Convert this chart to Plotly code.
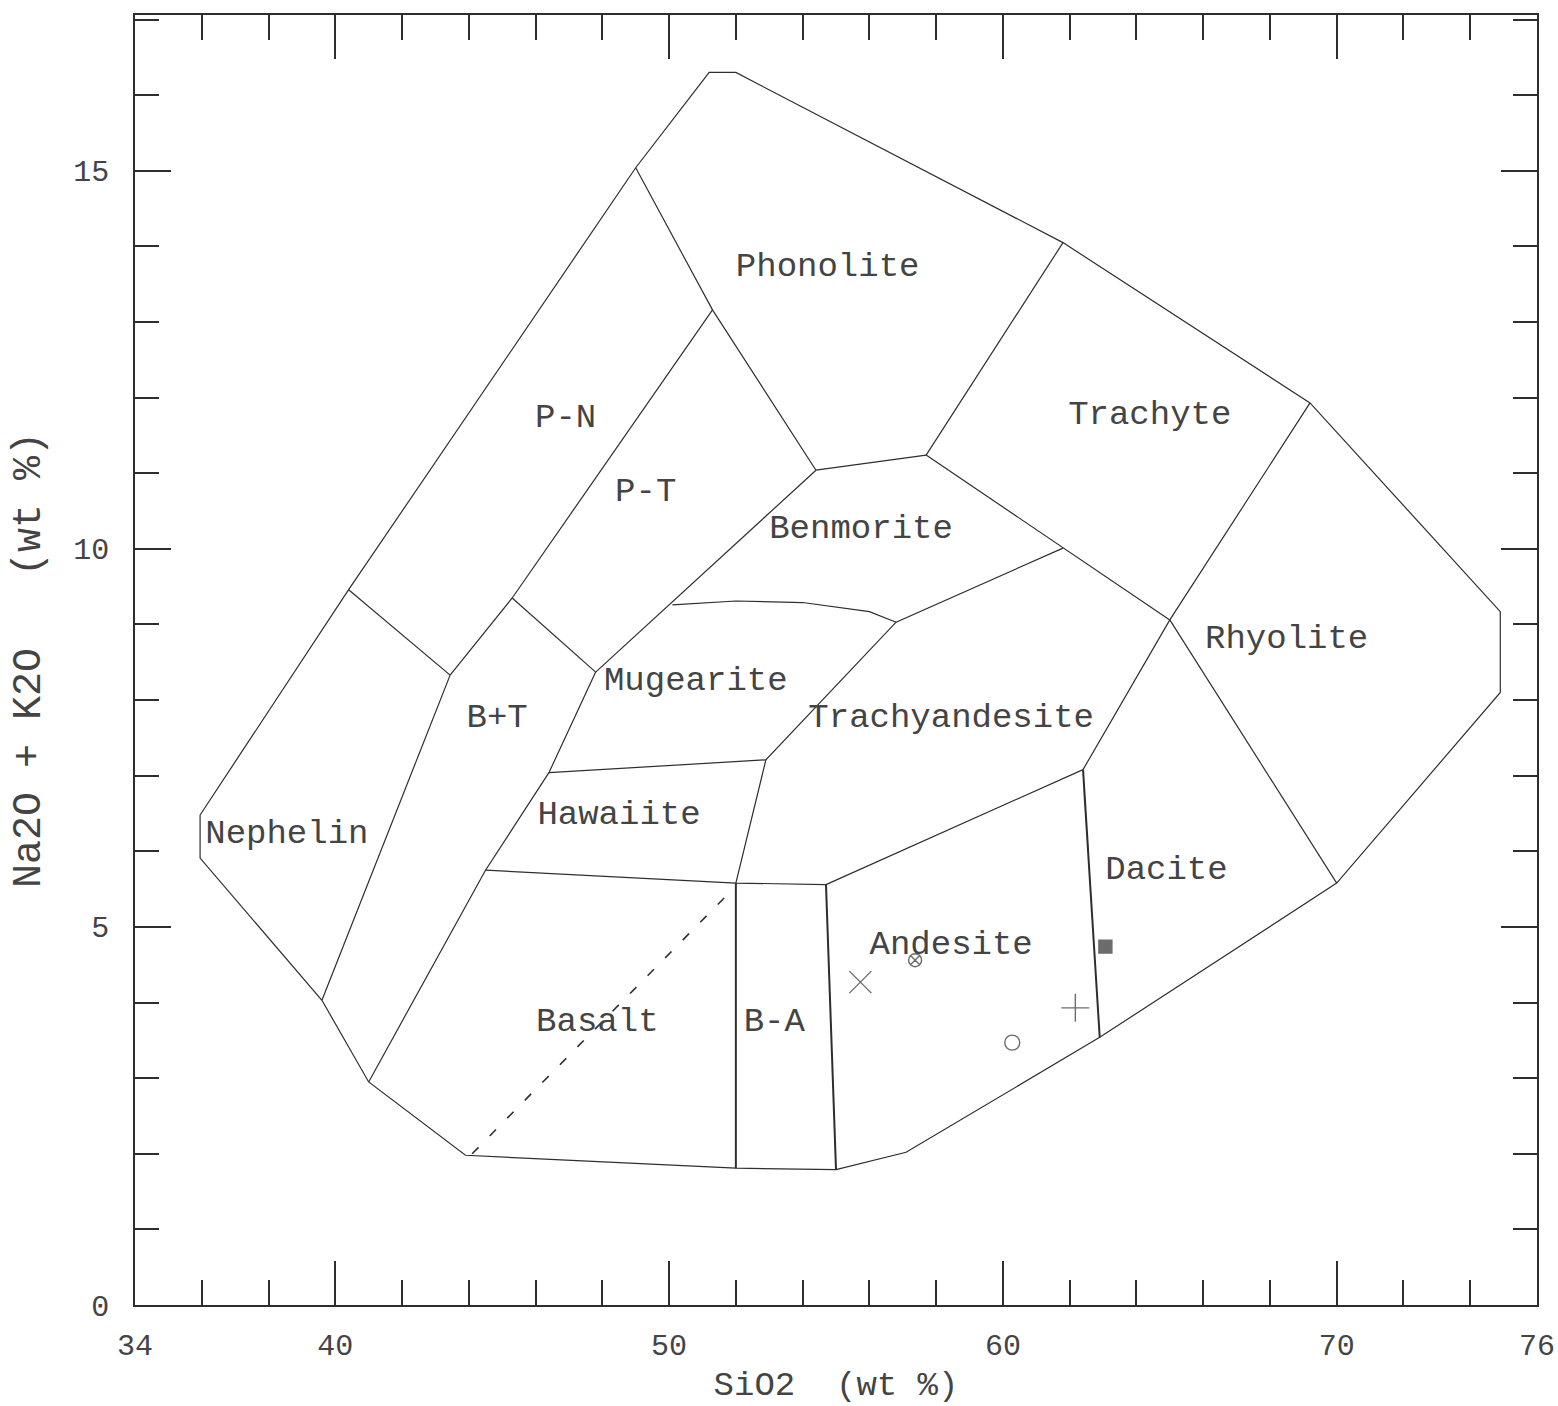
import plotly.graph_objects as go

# Total-alkali vs silica classification fields (SiO2 wt %, Na2O+K2O wt %)
outer_sio2 = [35.95, 40.4, 49.0, 51.2, 52.0, 61.8, 69.2, 74.9, 74.9, 70.0, 62.9, 57.1, 55.0, 52.0, 43.9, 41.0, 39.6, 35.95, 35.95]
outer_alk = [6.48, 9.46, 15.04, 16.3, 16.3, 14.05, 11.93, 9.17, 8.1, 5.58, 3.54, 2.02, 1.79, 1.81, 1.98, 2.95, 4.03, 5.91, 6.48]

nephelin_top_sio2 = [40.4, 43.44]
nephelin_top_alk = [9.46, 8.33]
nephelin_bt_sio2 = [43.44, 39.6]
nephelin_bt_alk = [8.33, 4.03]
pn_pt_sio2 = [43.44, 45.3, 51.3]
pn_pt_alk = [8.33, 9.35, 13.16]
phonolite_sio2 = [49.0, 51.3, 54.4]
phonolite_alk = [15.04, 13.16, 11.04]
bt_pt_sio2 = [45.3, 47.8]
bt_pt_alk = [9.35, 8.37]
pt_right_sio2 = [54.4, 47.8]
pt_right_alk = [11.04, 8.37]
bt_right_sio2 = [47.8, 46.4, 44.5, 41.0]
bt_right_alk = [8.37, 7.04, 5.75, 2.95]
benmorite_top_sio2 = [54.4, 57.7]
benmorite_top_alk = [11.04, 11.24]
trachyte_left_sio2 = [61.8, 57.7]
trachyte_left_alk = [14.05, 11.24]
trachyte_bottom_sio2 = [57.7, 61.8, 65.0]
trachyte_bottom_alk = [11.24, 10.01, 9.06]
rhyolite_left_sio2 = [69.2, 65.0, 62.4]
rhyolite_left_alk = [11.93, 9.06, 7.08]
rhyolite_dacite_sio2 = [65.0, 70.0]
rhyolite_dacite_alk = [9.06, 5.58]
trachyandesite_left_sio2 = [61.8, 56.8, 52.9, 52.0]
trachyandesite_left_alk = [10.01, 9.03, 7.21, 5.58]
mugearite_top_sio2 = [50.1, 52.0, 54.0, 56.0, 56.8]
mugearite_top_alk = [9.26, 9.31, 9.29, 9.17, 9.03]
hawaiite_top_sio2 = [46.4, 52.9]
hawaiite_top_alk = [7.04, 7.21]
hawaiite_bottom_sio2 = [44.5, 52.0, 54.7]
hawaiite_bottom_alk = [5.75, 5.58, 5.56]
andesite_top_sio2 = [54.7, 62.4]
andesite_top_alk = [5.56, 7.08]
ba_left_sio2 = [52.0, 52.0]
ba_left_alk = [5.58, 1.81]
ba_right_sio2 = [54.7, 55.0]
ba_right_alk = [5.56, 1.79]
dacite_left_sio2 = [62.4, 62.9]
dacite_left_alk = [7.08, 3.54]
alkaline_divide_sio2 = [44.1, 51.8]
alkaline_divide_alk = [2.0, 5.45]

field_names = ["Phonolite", "P-N", "P-T", "Trachyte", "Benmorite", "Rhyolite", "Mugearite",
               "Trachyandesite", "B+T", "Hawaiite", "Nephelin", "Dacite", "Andesite", "Basalt", "B-A"]
label_sio2 = [54.75, 46.9, 49.3, 64.4, 55.75, 68.5, 50.8, 58.45, 44.85, 48.5, 38.55, 64.9, 58.45, 47.85, 53.15]
label_alk = [13.72, 11.73, 10.75, 11.77, 10.25, 8.8, 8.24, 7.76, 7.76, 6.48, 6.22, 5.75, 4.76, 3.74, 3.74]

sample_sio2 = [55.73, 57.37, 63.07, 62.17, 60.28]
sample_alk = [4.27, 4.56, 4.74, 3.93, 3.47]
sample_symbols = ["x-thin-open", "circle-x-open", "square", "cross-thin-open", "circle-open"]
sample_sizes = [22, 13, 13, 20, 15]

x_ticks = [34, 40, 50, 60, 70, 76]
y_ticks = [0, 5, 10, 15]

INK = "#2e2e2e"
TEXT = "#444444"
FONT = "Liberation Mono"

fig = go.Figure()

thin_lines = [
    (outer_sio2, outer_alk),
    (nephelin_top_sio2, nephelin_top_alk),
    (nephelin_bt_sio2, nephelin_bt_alk),
    (pn_pt_sio2, pn_pt_alk),
    (phonolite_sio2, phonolite_alk),
    (bt_pt_sio2, bt_pt_alk),
    (pt_right_sio2, pt_right_alk),
    (bt_right_sio2, bt_right_alk),
    (benmorite_top_sio2, benmorite_top_alk),
    (trachyte_left_sio2, trachyte_left_alk),
    (trachyte_bottom_sio2, trachyte_bottom_alk),
    (rhyolite_left_sio2, rhyolite_left_alk),
    (rhyolite_dacite_sio2, rhyolite_dacite_alk),
    (trachyandesite_left_sio2, trachyandesite_left_alk),
    (mugearite_top_sio2, mugearite_top_alk),
    (hawaiite_top_sio2, hawaiite_top_alk),
    (hawaiite_bottom_sio2, hawaiite_bottom_alk),
    (andesite_top_sio2, andesite_top_alk),
]
for xs, ys in thin_lines:
    fig.add_trace(go.Scatter(x=xs, y=ys, mode="lines", line=dict(color=INK, width=1.2),
                             hoverinfo="skip", showlegend=False))

heavy_lines = [
    (ba_left_sio2, ba_left_alk),
    (ba_right_sio2, ba_right_alk),
    (dacite_left_sio2, dacite_left_alk),
]
for xs, ys in heavy_lines:
    fig.add_trace(go.Scatter(x=xs, y=ys, mode="lines", line=dict(color=INK, width=2),
                             hoverinfo="skip", showlegend=False))

fig.add_trace(go.Scatter(x=alkaline_divide_sio2, y=alkaline_divide_alk, mode="lines",
                         line=dict(color=INK, width=1.6, dash="9px,16px"),
                         hoverinfo="skip", showlegend=False))

fig.add_trace(go.Scatter(x=label_sio2, y=label_alk, mode="text", text=field_names,
                         textposition="middle center",
                         textfont=dict(family=FONT, size=34, color=TEXT),
                         hoverinfo="skip", showlegend=False))

fig.add_trace(go.Scatter(x=sample_sio2, y=sample_alk, mode="markers",
                         marker=dict(symbol=sample_symbols, size=sample_sizes, color=INK,
                                     line=dict(color=INK, width=1.4)),
                         showlegend=False))

fig.update_layout(
    width=1558, height=1406,
    margin=dict(l=135, r=21, t=15, b=101),
    paper_bgcolor="white", plot_bgcolor="white",
    font=dict(family=FONT, color=TEXT),
)
fig.update_xaxes(
    range=[34, 76], tickvals=x_ticks, ticktext=[str(v) for v in x_ticks],
    ticks="inside", ticklen=44, tickwidth=1.5, tickcolor=INK,
    minor=dict(dtick=2, tick0=34, ticks="inside", ticklen=25, tickwidth=1.5, tickcolor=INK),
    showline=True, linecolor=INK, linewidth=1.5, mirror="ticks",
    showgrid=False, zeroline=False, automargin=False,
    tickfont=dict(family=FONT, size=30, color=TEXT), ticklabelstandoff=12,
    title=dict(text="SiO2\u00a0\u00a0(wt\u00a0%)", font=dict(family=FONT, size=34, color=TEXT),
               standoff=8),
)
fig.update_yaxes(
    range=[0, 17.06], tickvals=y_ticks, ticktext=[str(v) for v in y_ticks],
    ticks="inside", ticklen=36, tickwidth=1.5, tickcolor=INK,
    minor=dict(dtick=1, tick0=0, ticks="inside", ticklen=24, tickwidth=1.5, tickcolor=INK),
    showline=True, linecolor=INK, linewidth=1.5, mirror="ticks",
    showgrid=False, zeroline=False, automargin=False,
    tickfont=dict(family=FONT, size=30, color=TEXT), ticklabelstandoff=18,
    title=dict(text="Na2O\u00a0+\u00a0K2O\u00a0\u00a0\u00a0(wt\u00a0%)",
               font=dict(family=FONT, size=40, color=TEXT), standoff=20),
)

fig.write_html("out.html")
